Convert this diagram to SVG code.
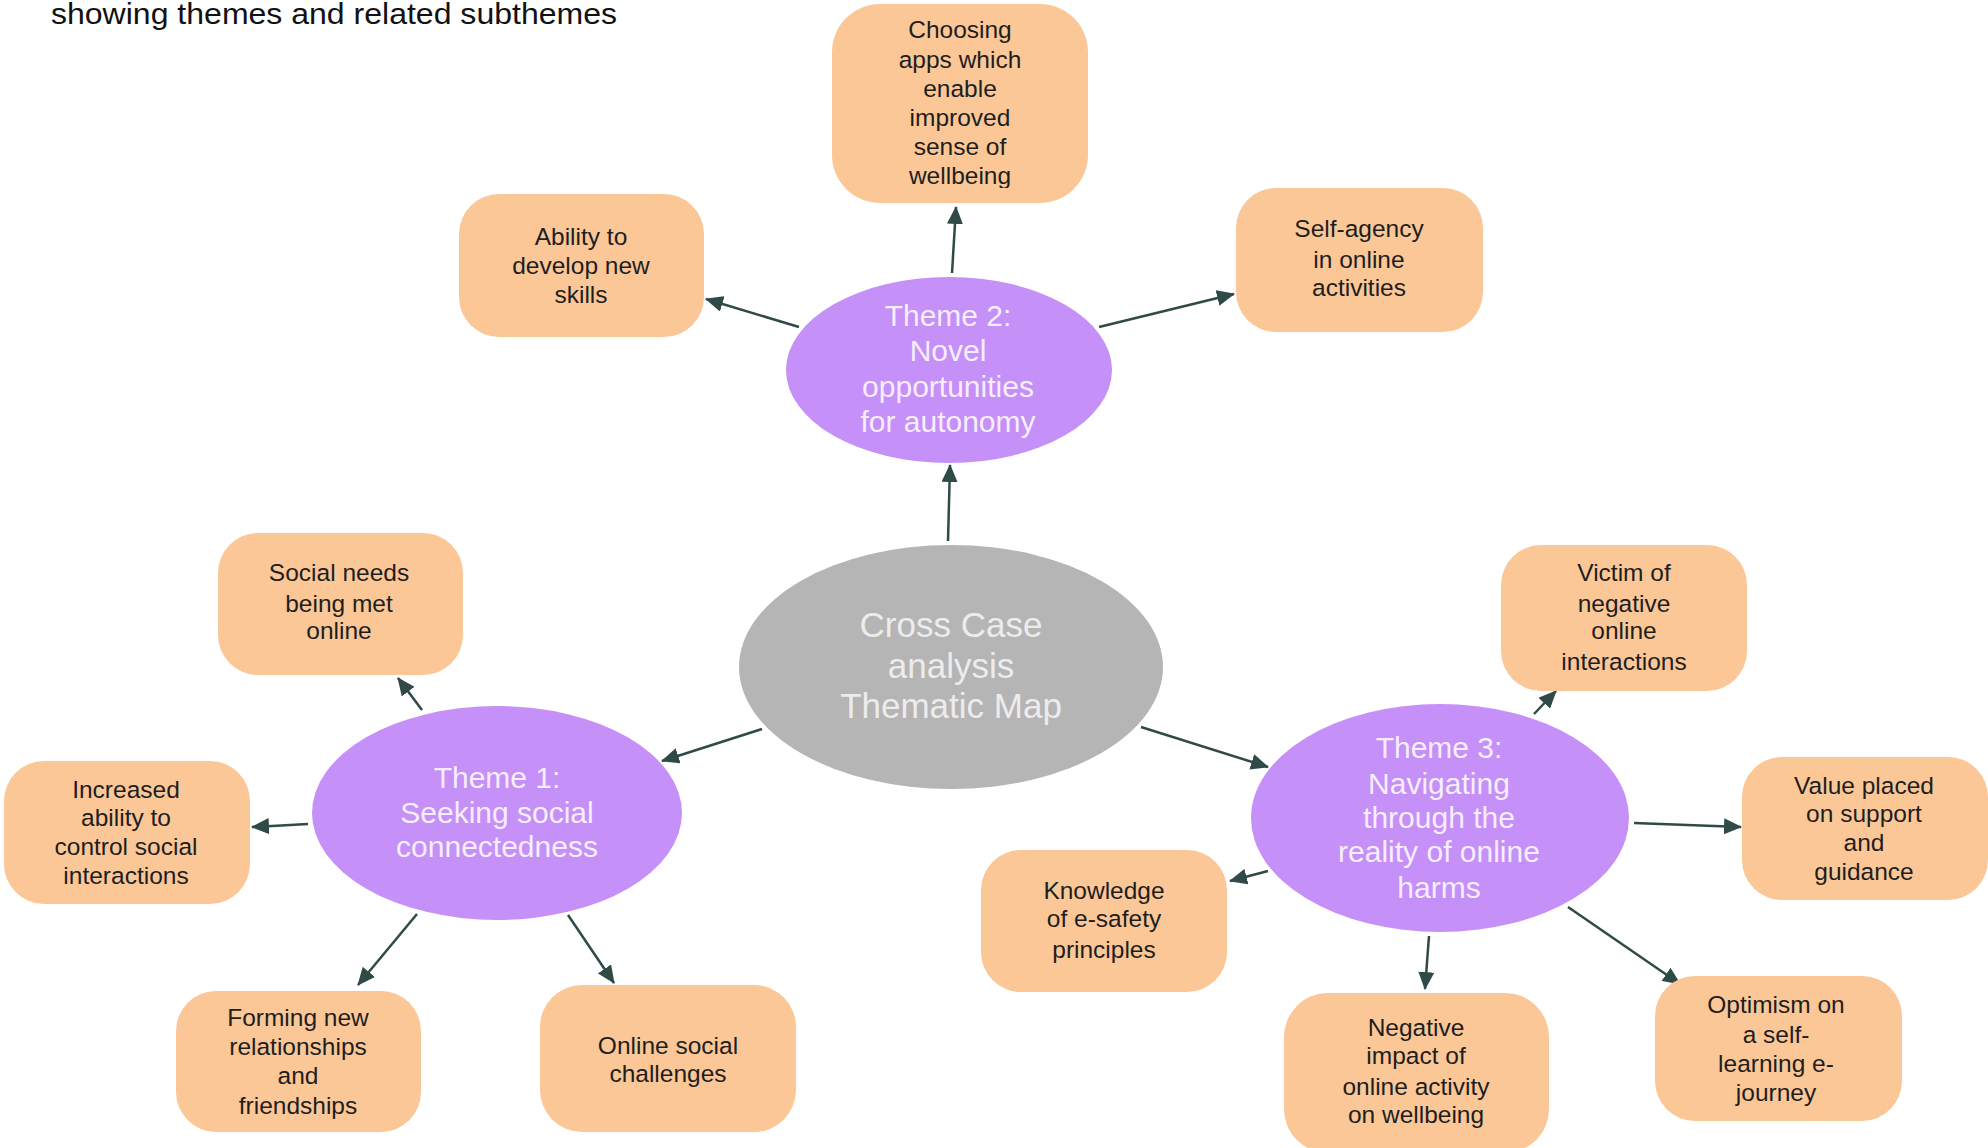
<svg xmlns="http://www.w3.org/2000/svg" width="1988" height="1148" viewBox="0 0 1988 1148">
<style>
.box{fill:#FBC797;}
.sub{font-family:"Liberation Sans",Arial,sans-serif;font-size:24.5px;fill:#1e1e1e;text-anchor:middle;}
.theme{fill:#C590F7;}
.tt{font-family:"Liberation Sans",Arial,sans-serif;font-size:30px;fill:#f6eefc;text-anchor:middle;}
.core{fill:#B5B5B5;}
.ct{font-family:"Liberation Sans",Arial,sans-serif;font-size:35px;fill:#ececec;text-anchor:middle;}
.cap{font-family:"Liberation Sans",Arial,sans-serif;font-size:30px;fill:#111;}
.edge{stroke:#2F4A47;stroke-width:2.5;fill:none;marker-end:url(#ah);}
</style>
<defs>
<marker id="ah" markerUnits="userSpaceOnUse" markerWidth="18" markerHeight="16" refX="17" refY="8" orient="auto">
<path d="M0,0 L18,8 L0,16 Z" fill="#2F4A47"/>
</marker>
<clipPath id="clipChoose"><rect x="832" y="4" width="256" height="184"/></clipPath>
<clipPath id="clipT2"><ellipse cx="949" cy="370" rx="163" ry="93"/></clipPath>
</defs>
<rect width="1988" height="1148" fill="#ffffff"/>
<text class="cap" x="51" y="24" textLength="566" lengthAdjust="spacingAndGlyphs">showing themes and related subthemes</text>

<g id="connectors">
<line class="edge" x1="948" y1="541" x2="950" y2="465"/>
<line class="edge" x1="952" y1="273" x2="956" y2="207"/>
<line class="edge" x1="799" y1="327" x2="706" y2="299"/>
<line class="edge" x1="1099" y1="327" x2="1234" y2="294"/>
<line class="edge" x1="762" y1="729" x2="662" y2="761"/>
<line class="edge" x1="1141" y1="727" x2="1268" y2="767"/>
<line class="edge" x1="422" y1="710" x2="398" y2="678"/>
<line class="edge" x1="308" y1="824" x2="252" y2="827"/>
<line class="edge" x1="417" y1="914" x2="358" y2="985"/>
<line class="edge" x1="568" y1="915" x2="614" y2="983"/>
<line class="edge" x1="1534" y1="714" x2="1556" y2="691"/>
<line class="edge" x1="1634" y1="823" x2="1741" y2="827"/>
<line class="edge" x1="1268" y1="871" x2="1230" y2="881"/>
<line class="edge" x1="1429" y1="936" x2="1425" y2="989"/>
<line class="edge" x1="1568" y1="907" x2="1680" y2="984"/>
</g>

<g id="core">
<ellipse class="core" cx="951" cy="667" rx="212" ry="122"/>
<text class="ct" x="951" y="637">Cross Case</text>
<text class="ct" x="951" y="678">analysis</text>
<text class="ct" x="951" y="718">Thematic Map</text>
</g>

<g id="theme2">
<ellipse class="theme" cx="949" cy="370" rx="163" ry="93"/>
<g clip-path="url(#clipT2)">
<text class="tt" x="948" y="326">Theme 2:</text>
<text class="tt" x="948" y="361">Novel</text>
<text class="tt" x="948" y="397">opportunities</text>
<text class="tt" x="948" y="432">for autonomy</text>
</g>
</g>

<g id="theme1">
<ellipse class="theme" cx="497" cy="813" rx="185" ry="107"/>
<text class="tt" x="497" y="788">Theme 1:</text>
<text class="tt" x="497" y="823">Seeking social</text>
<text class="tt" x="497" y="857">connectedness</text>
</g>

<g id="theme3">
<ellipse class="theme" cx="1440" cy="818" rx="189" ry="114"/>
<text class="tt" x="1439" y="758">Theme 3:</text>
<text class="tt" x="1439" y="794">Navigating</text>
<text class="tt" x="1439" y="828">through the</text>
<text class="tt" x="1439" y="862">reality of online</text>
<text class="tt" x="1439" y="898">harms</text>
</g>

<g id="choosing">
<rect class="box" x="832" y="4" width="256" height="199" rx="48"/>
<g clip-path="url(#clipChoose)">
<text class="sub" x="960" y="38">Choosing</text>
<text class="sub" x="960" y="68">apps which</text>
<text class="sub" x="960" y="97">enable</text>
<text class="sub" x="960" y="126">improved</text>
<text class="sub" x="960" y="155">sense of</text>
<text class="sub" x="960" y="184">wellbeing</text>
</g>
</g>

<g id="ability">
<rect class="box" x="459" y="194" width="245" height="143" rx="40"/>
<text class="sub" x="581" y="245">Ability to</text>
<text class="sub" x="581" y="274">develop new</text>
<text class="sub" x="581" y="303">skills</text>
</g>

<g id="selfagency">
<rect class="box" x="1236" y="188" width="247" height="144" rx="40"/>
<text class="sub" x="1359" y="237">Self-agency</text>
<text class="sub" x="1359" y="268">in online</text>
<text class="sub" x="1359" y="296">activities</text>
</g>

<g id="socialneeds">
<rect class="box" x="218" y="533" width="245" height="142" rx="40"/>
<text class="sub" x="339" y="581">Social needs</text>
<text class="sub" x="339" y="612">being met</text>
<text class="sub" x="339" y="639">online</text>
</g>

<g id="increased">
<rect class="box" x="4" y="761" width="246" height="143" rx="40"/>
<text class="sub" x="126" y="798">Increased</text>
<text class="sub" x="126" y="826">ability to</text>
<text class="sub" x="126" y="855">control social</text>
<text class="sub" x="126" y="884">interactions</text>
</g>

<g id="forming">
<rect class="box" x="176" y="991" width="245" height="141" rx="40"/>
<text class="sub" x="298" y="1026">Forming new</text>
<text class="sub" x="298" y="1055">relationships</text>
<text class="sub" x="298" y="1084">and</text>
<text class="sub" x="298" y="1114">friendships</text>
</g>

<g id="onlinesocial">
<rect class="box" x="540" y="985" width="256" height="147" rx="42"/>
<text class="sub" x="668" y="1054">Online social</text>
<text class="sub" x="668" y="1082">challenges</text>
</g>

<g id="victim">
<rect class="box" x="1501" y="545" width="246" height="146" rx="40"/>
<text class="sub" x="1624" y="581">Victim of</text>
<text class="sub" x="1624" y="612">negative</text>
<text class="sub" x="1624" y="639">online</text>
<text class="sub" x="1624" y="670">interactions</text>
</g>

<g id="value">
<rect class="box" x="1742" y="757" width="246" height="143" rx="40"/>
<text class="sub" x="1864" y="794">Value placed</text>
<text class="sub" x="1864" y="822">on support</text>
<text class="sub" x="1864" y="851">and</text>
<text class="sub" x="1864" y="880">guidance</text>
</g>

<g id="knowledge">
<rect class="box" x="981" y="850" width="246" height="142" rx="40"/>
<text class="sub" x="1104" y="899">Knowledge</text>
<text class="sub" x="1104" y="927">of e-safety</text>
<text class="sub" x="1104" y="958">principles</text>
</g>

<g id="negative">
<rect class="box" x="1284" y="993" width="265" height="160" rx="44"/>
<text class="sub" x="1416" y="1036">Negative</text>
<text class="sub" x="1416" y="1064">impact of</text>
<text class="sub" x="1416" y="1095">online activity</text>
<text class="sub" x="1416" y="1123">on wellbeing</text>
</g>

<g id="optimism">
<rect class="box" x="1655" y="976" width="247" height="145" rx="40"/>
<text class="sub" x="1776" y="1013">Optimism on</text>
<text class="sub" x="1776" y="1043">a self-</text>
<text class="sub" x="1776" y="1072">learning e-</text>
<text class="sub" x="1776" y="1101">journey</text>
</g>
</svg>
